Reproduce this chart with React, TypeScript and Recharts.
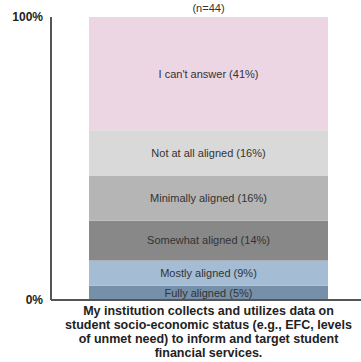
import { BarChart, Bar, XAxis, YAxis, LabelList } from 'recharts';

// response categories, bottom of the stack first
const categories = [
  'Fully aligned',
  'Mostly aligned',
  'Somewhat aligned',
  'Minimally aligned',
  'Not at all aligned',
  "I can't answer",
];
const shares = [5, 9, 14, 16, 16, 41];
const colors = ['#7690aa', '#a4bcd4', '#888888', '#b5b5b5', '#d9d9d9', '#edd6e4'];

const statement =
  'My institution collects and utilizes data on student socio-economic status (e.g., EFC, levels of unmet need) to inform and target student financial services.';
const statementLines = [
  'My institution collects and utilizes data on',
  'student socio-economic status (e.g., EFC, levels',
  'of unmet need) to inform and target student',
  'financial services.',
];
const sampleSize = 44;
const yTicks = [0, 100];

const row: Record<string, string | number> = { name: statement };
categories.forEach((c, i) => {
  row[c] = shares[i];
});
const data = [row];

const font = '"Liberation Sans", Arial, sans-serif';

const StatementTick = (props: any) => {
  const { x, y } = props;
  return (
    <text x={x} y={y} textAnchor="middle" fontFamily={font} fontSize={12.5} fontWeight="bold" fill="#222">
      {statementLines.map((line, i) => (
        <tspan key={i} x={x} y={y + 7 + i * 14}>
          {line}
        </tspan>
      ))}
    </text>
  );
};

const App = () => {
  return (
    <div style={{ position: 'absolute', left: 0, top: 0, width: 361, height: 362 }}>
      <div
        style={{
          position: 'absolute',
          left: 0,
          top: 2,
          width: 417,
          textAlign: 'center',
          fontFamily: font,
          fontSize: 11,
          color: '#333',
        }}
      >
        (n={sampleSize})
      </div>
      <BarChart width={361} height={362} data={data} margin={{ top: 17, right: 0, bottom: 0, left: 0 }}>
        <XAxis
          dataKey="name"
          height={62}
          padding={{ left: 5, right: 0 }}
          tickLine={false}
          axisLine={{ stroke: '#555', strokeWidth: 2 }}
          tick={<StatementTick />}
          interval={0}
        />
        <YAxis
          width={51}
          domain={[0, 100]}
          ticks={yTicks}
          allowDataOverflow
          tickLine={false}
          axisLine={{ stroke: '#555', strokeWidth: 2 }}
          tickFormatter={(v: number) => `${v}%`}
          tick={{ fontFamily: font, fontSize: 12, fontWeight: 'bold', fill: '#222' }}
        />
        {categories.map((c, i) => (
          <Bar key={c} dataKey={c} stackId="a" fill={colors[i]} barSize={239} isAnimationActive={false}>
            <LabelList
              dataKey={c}
              position="center"
              formatter={(v: any) => `${c} (${v}%)`}
              style={{ fontFamily: font, fontSize: 11, fill: '#333' }}
            />
          </Bar>
        ))}
      </BarChart>
    </div>
  );
};

export default App;
